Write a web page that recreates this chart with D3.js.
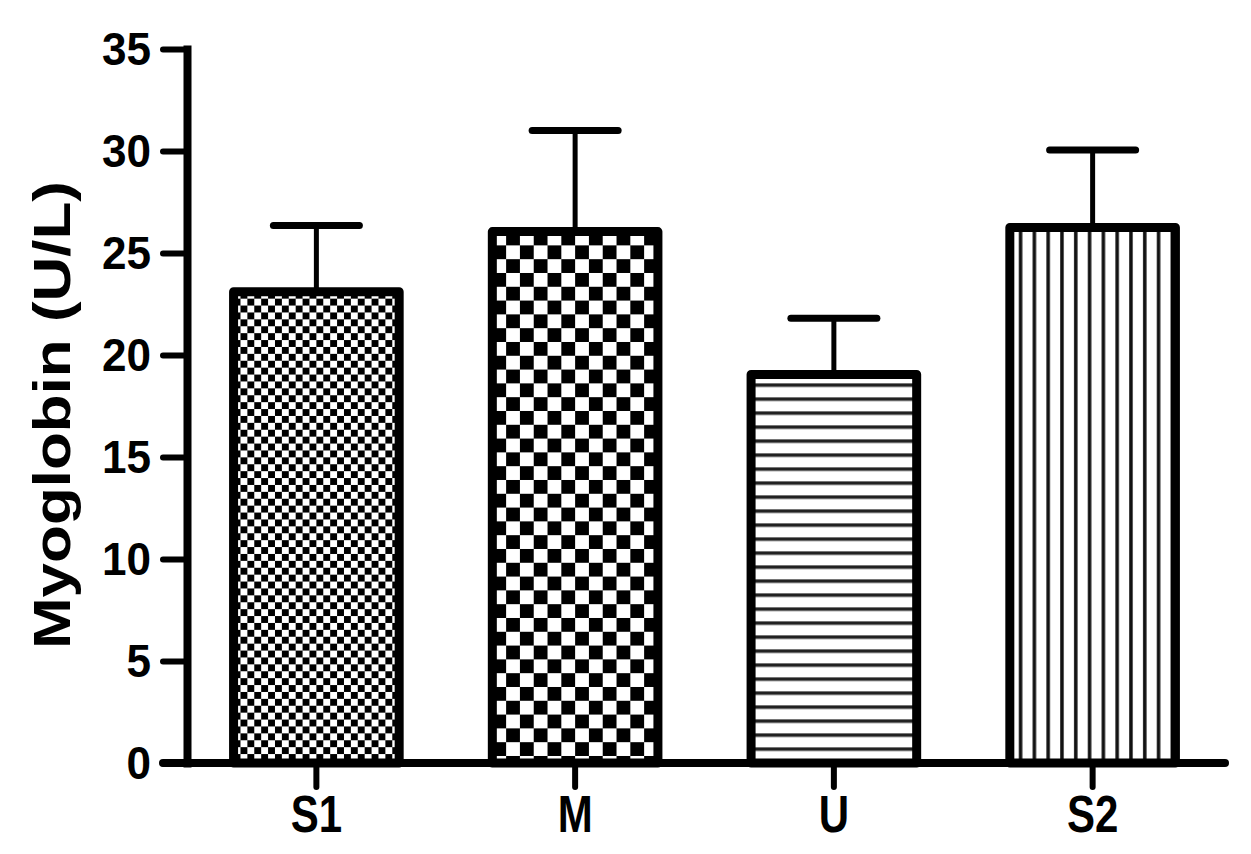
<!DOCTYPE html>
<html><head><meta charset="utf-8">
<script src="https://cdn.jsdelivr.net/npm/d3@7"></script>
<style>body{margin:0;background:#fff}svg{display:block}</style></head>
<body>
<svg id="chart" width="1251" height="854"></svg>
<script>
// ---- data ----
const categories = ["S1", "M", "U", "S2"];
const means = [23.1, 26.05, 19.05, 26.25];
const errors = [3.25, 4.95, 2.75, 3.8];
const fills = ["fineChecker", "checker", "hlines", "vlines"];
const yTicks = [0, 5, 10, 15, 20, 25, 30, 35];
const yLabel = "Myoglobin (U/L)";

// ---- layout ----
const svg = d3.select("#chart");
const axisX0 = 187, axisXEnd = 1222, axisY0 = 763, axisYTop = 49;
const font = "'Liberation Sans', Arial, sans-serif";

const x = d3.scaleBand().domain(categories).range([axisX0, axisXEnd])
  .paddingInner(0.36).paddingOuter(0.18);
const y = d3.scaleLinear().domain([0, 35]).range([axisY0, axisYTop]);

const data = categories.map((c, i) => ({ c, m: means[i], e: errors[i], f: fills[i], i }));

// ---- patterns ----
const defs = svg.append("defs");
data.forEach(d => {
  const x0 = x(d.c), y0 = y(d.m);
  let p;
  if (d.f === "fineChecker") {
    const s = 6.9;
    p = defs.append("pattern").attr("id", "pat" + d.i).attr("patternUnits", "userSpaceOnUse")
      .attr("x", x0).attr("y", y0).attr("width", 2 * s).attr("height", 2 * s);
    p.append("rect").attr("width", 2 * s).attr("height", 2 * s).attr("fill", "#000");
    p.append("rect").attr("x", 0).attr("y", 0).attr("width", s).attr("height", s).attr("fill", "#fff");
    p.append("rect").attr("x", s).attr("y", s).attr("width", s).attr("height", s).attr("fill", "#fff");
  } else if (d.f === "checker") {
    const s = 13.8;
    p = defs.append("pattern").attr("id", "pat" + d.i).attr("patternUnits", "userSpaceOnUse")
      .attr("x", x0).attr("y", y0).attr("width", 2 * s).attr("height", 2 * s);
    p.append("rect").attr("width", 2 * s).attr("height", 2 * s).attr("fill", "#000");
    p.append("rect").attr("x", 0).attr("y", 0).attr("width", s).attr("height", s).attr("fill", "#fff");
    p.append("rect").attr("x", s).attr("y", s).attr("width", s).attr("height", s).attr("fill", "#fff");
  } else if (d.f === "hlines") {
    const s = 14;
    p = defs.append("pattern").attr("id", "pat" + d.i).attr("patternUnits", "userSpaceOnUse")
      .attr("x", x0).attr("y", y0).attr("width", 20).attr("height", s);
    p.append("rect").attr("width", 20).attr("height", s).attr("fill", "#fff");
    p.append("rect").attr("x", 0).attr("y", 9).attr("width", 20).attr("height", 3.5).attr("fill", "#222");
  } else {
    const s = 13.8;
    p = defs.append("pattern").attr("id", "pat" + d.i).attr("patternUnits", "userSpaceOnUse")
      .attr("x", x0).attr("y", y0).attr("width", s).attr("height", 20);
    p.append("rect").attr("width", s).attr("height", 20).attr("fill", "#fff");
    p.append("rect").attr("x", 9).attr("y", 0).attr("width", 3.5).attr("height", 20).attr("fill", "#111");
  }
});

// ---- error bars (behind bars) ----
const eg = svg.append("g");
eg.selectAll("line.stem").data(data).join("line").attr("class", "stem")
  .attr("x1", d => x(d.c) + x.bandwidth() / 2).attr("x2", d => x(d.c) + x.bandwidth() / 2)
  .attr("y1", d => y(d.m)).attr("y2", d => y(d.m + d.e))
  .attr("stroke", "#000").attr("stroke-width", 5);
eg.selectAll("line.cap").data(data).join("line").attr("class", "cap")
  .attr("x1", d => x(d.c) + x.bandwidth() / 2 - 43).attr("x2", d => x(d.c) + x.bandwidth() / 2 + 43)
  .attr("y1", d => y(d.m + d.e)).attr("y2", d => y(d.m + d.e))
  .attr("stroke", "#000").attr("stroke-width", 7).attr("stroke-linecap", "round");

// ---- bars ----
svg.append("g").selectAll("rect").data(data).join("rect")
  .attr("x", d => x(d.c)).attr("y", d => y(d.m))
  .attr("width", x.bandwidth()).attr("height", d => y(0) - y(d.m))
  .attr("fill", d => "url(#pat" + d.i + ")")
  .attr("stroke", "#000").attr("stroke-width", 9).attr("stroke-linejoin", "round");

// ---- y axis ----
const yAxis = svg.append("g").attr("transform", `translate(${axisX0},0)`)
  .call(d3.axisLeft(y).tickValues(yTicks).tickSize(24).tickSizeOuter(0).tickPadding(8));
yAxis.select(".domain").attr("stroke-width", 8).attr("stroke-linecap", "square");
yAxis.selectAll(".tick line").attr("stroke-width", 6).attr("stroke-linecap", "round");
yAxis.selectAll(".tick text").attr("font-family", font).attr("font-size", 42)
  .attr("font-weight", "bold").attr("fill", "#000")
  .attr("dy", null).attr("y", 0).attr("x", null)
  .attr("transform", "translate(-36,15) scale(1.05,1.08)");

// ---- x axis ----
const xAxis = svg.append("g").attr("transform", `translate(0,${axisY0})`)
  .call(d3.axisBottom(x).tickSize(24).tickSizeOuter(0));
xAxis.select(".domain").remove();
xAxis.insert("line", ":first-child").attr("x1", axisX0 - 24).attr("x2", axisXEnd + 3)
  .attr("y1", 0).attr("y2", 0).attr("stroke", "#000").attr("stroke-width", 8).attr("stroke-linecap", "round");
xAxis.selectAll(".tick line").attr("stroke-width", 6).attr("stroke-linecap", "round");
xAxis.selectAll(".tick text").attr("font-family", font).attr("font-size", 42)
  .attr("font-weight", "bold").attr("fill", "#000")
  .attr("dy", null).attr("y", 0)
  .attr("transform", "translate(0,69) scale(1,1.25)");

// ---- y label ----
svg.append("text").attr("transform", "translate(70,415) rotate(-90)")
  .attr("text-anchor", "middle").attr("font-family", font).attr("font-size", 52)
  .attr("font-weight", "bold").attr("textLength", 468).attr("lengthAdjust", "spacingAndGlyphs")
  .text(yLabel);
</script>
</body></html>
